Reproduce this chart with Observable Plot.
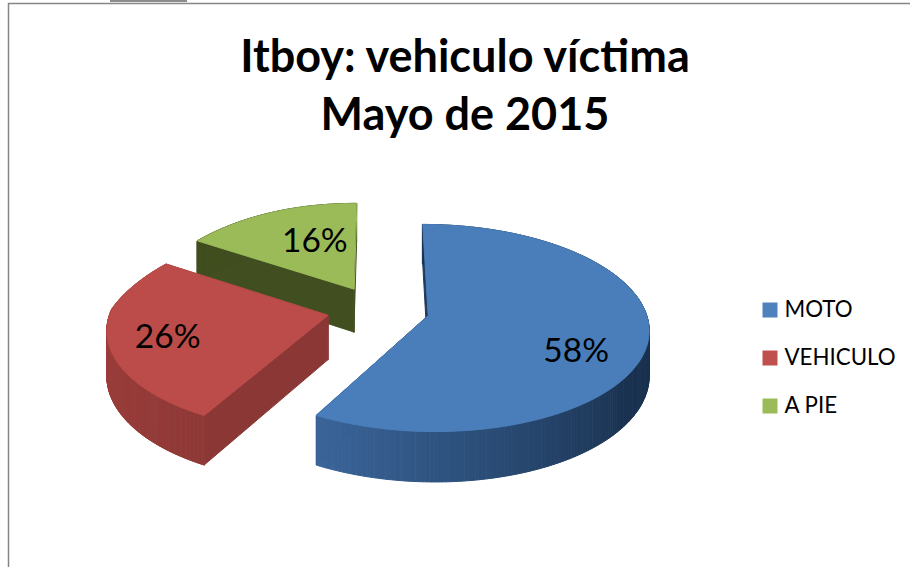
<!DOCTYPE html>
<html lang="es">
<head>
<meta charset="utf-8">
<style>html,body{margin:0;padding:0;background:#fff;overflow:hidden}</style>
<script src="https://cdn.jsdelivr.net/npm/d3@7"></script>
<script src="https://cdn.jsdelivr.net/npm/@observablehq/plot@0.6"></script>
</head>
<body>
<div id="chart"></div>
<script>
const titleLines = ["Itboy: vehiculo víctima", "Mayo de 2015"];
const categories = ["MOTO", "VEHICULO", "A PIE"];
const shares = [58, 26, 16];
const topColors = ["#4a7ebb", "#bb4c4a", "#9bbb59"];
const legendColors = ["#4f81bd", "#c0504d", "#9bbb59"];
const cutColors = ["#1f3a5c", "#8b3735", "#414f20"];
const wallFrom = ["#3b669b", "#8f3937", "#414f20"];
const wallTo = ["#1a3250", "#aa4442", "#414f20"];
const labelAngles = [118, 253.4, 338.7];
const labelRadii = [0.725, 0.739, 0.575];

// Camera of the tilted, exploded pie.
const cam = {cx: 377.5, cy: 309, S: 217, T: 100.6, k: 0.12, c: -15, D: 44, explode: 0.237};
const rad = a => a * Math.PI / 180;
function project(X, Y, Z) {
  const p = 1 + cam.k * Y;
  const shear = X < 0 && Y > 0 ? cam.c * X * Math.abs(X) * Y : 0;
  return {x: cam.cx + cam.S * X / p + shear, y: cam.cy - (cam.T * Y + cam.D * Z) / p};
}

const total = d3.sum(shares);
let acc = 0;
const slices = shares.map((v, i) => {
  const a0 = acc / total * 360; acc += v;
  const a1 = acc / total * 360;
  const mid = (a0 + a1) / 2;
  return {i, a0, a1, ox: cam.explode * Math.sin(rad(mid)), oy: cam.explode * Math.cos(rad(mid))};
});
const world = (s, a, r = 1) => [s.ox + r * Math.sin(rad(a)), s.oy + r * Math.cos(rad(a))];

const polys = [];
let pid = 0;
function addPoly(points, fill) {
  const id = pid++;
  for (const q of points) polys.push({id, x: q.x, y: q.y, fill});
}
function quad(s, a, b, rA, rB, fill) {
  const [ax, ay] = world(s, a, rA), [bx, by] = world(s, b, rB);
  addPoly([project(ax, ay, 0), project(bx, by, 0), project(bx, by, -1), project(ax, ay, -1)], fill);
}
// Painter's order: green (back), red, blue (front).
for (const s of [slices[2], slices[1], slices[0]]) {
  quad(s, s.a0, s.a0, 0, 1, cutColors[s.i]);
  quad(s, s.a1, s.a1, 0, 1, cutColors[s.i]);
  const n = 240, col = d3.interpolateRgb(wallFrom[s.i], wallTo[s.i]);
  const angs = d3.range(n).map(j => s.a0 + (s.a1 - s.a0) * j / n);
  const step = (s.a1 - s.a0) / n;
  // Blue: light at its front end, dark on the right; red: dark at its front end, light on the left.
  const shade = a => s.i === 0
    ? col(Math.min(1, Math.max(0, (s.a1 - a) / 85)))
    : col((a - s.a0) / (s.a1 - s.a0));
  angs.sort((u, v) => Math.cos(rad(v)) - Math.cos(rad(u)));
  for (const a of angs) quad(s, a, a + step, 1, 1, shade(a));
  const top = [project(s.ox, s.oy, 0)];
  for (let j = 0; j <= n; j++) {
    const [x, y] = world(s, s.a0 + (s.a1 - s.a0) * j / n);
    top.push(project(x, y, 0));
  }
  addPoly(top, topColors[s.i]);
}

const labels = slices.map(s => {
  const [x, y] = world(s, labelAngles[s.i], labelRadii[s.i]);
  return {...project(x, y, 0), text: shares[s.i] + "%"};
});

const font = "Lato, Carlito, Calibri, sans-serif";
const frame = [[8, 567], [8, 3], [910, 3]];
const plot = Plot.plot({
  width: 910, height: 567, margin: 0,
  x: {domain: [0, 910], range: [0, 910], axis: null},
  y: {domain: [0, 567], range: [0, 567], axis: null},
  color: {type: "identity"},
  style: {background: "#fff"},
  marks: [
    Plot.line(frame, {x: d => d[0], y: d => d[1], stroke: "#868686", strokeWidth: 1.5, curve: "linear"}),
    Plot.ruleY([0.5], {x1: 110, x2: 187, stroke: "#8c8c8c", strokeWidth: 2}),
    Plot.line(polys, {x: "x", y: "y", z: "id", fill: "fill", stroke: "fill", strokeWidth: 1, curve: "linear-closed"}),
    Plot.text(labels, {x: "x", y: "y", text: "text", fontSize: 33.5, fontFamily: font, fill: "#000", lineAnchor: "middle", textAnchor: "middle"}),
    Plot.text(titleLines, {x: () => 464.5, y: (d, i) => 57 + 58 * i, text: d => d, fontSize: 45, fontWeight: 700, fontFamily: font, fill: "#000", lineAnchor: "middle", textAnchor: "middle"}),
    Plot.dot(categories, {x: () => 769.5, y: (d, i) => 309.5 + 48 * i, r: 8.46, symbol: "square", fill: (d, i) => legendColors[i], stroke: null}),
    Plot.text(categories, {x: () => 784, y: (d, i) => 309 + 48 * i, text: d => d, fontSize: 22.3, fontFamily: font, fill: "#000", lineAnchor: "middle", textAnchor: "start"})
  ]
});
document.getElementById("chart").append(plot);
</script>
</body>
</html>
